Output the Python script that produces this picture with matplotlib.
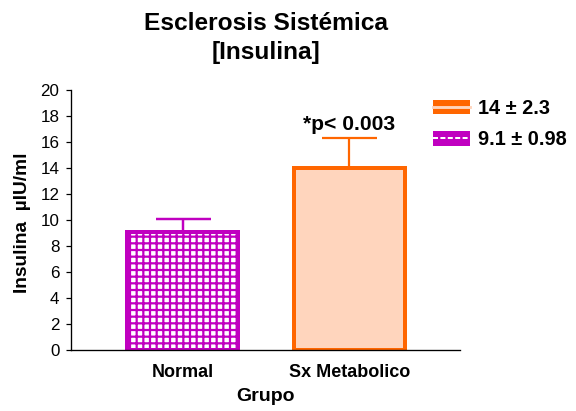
import matplotlib
matplotlib.use('Agg')
import matplotlib.pyplot as plt
from matplotlib.patches import Patch
from matplotlib.lines import Line2D

groups = ['Normal', 'Sx Metabolico']
means = [9.1, 14]
sems = [0.98, 2.3]
legend_labels = ['14 \u00b1 2.3', '9.1 \u00b1 0.98']
p_text = '*p< 0.003'

purple = '#C000C0'
orange = '#FF6600'
peach = '#FFD5BD'

plt.rcParams['font.family'] = ['Liberation Sans', 'DejaVu Sans']
plt.rcParams['hatch.linewidth'] = 2.0

fig = plt.figure(figsize=(7.2, 5.1375), dpi=80)
ax = fig.add_axes([0.1233, 0.1484, 0.6753, 0.6326])

x = list(range(len(groups)))

# error bars sit behind the bars so only the upper half shows
ax.errorbar(x[0], means[0], yerr=[[0], [sems[0]]], fmt='none', ecolor=purple,
            elinewidth=2.2, capsize=24.75, capthick=2.2, zorder=1)
ax.errorbar(x[1], means[1], yerr=[[0], [sems[1]]], fmt='none', ecolor=orange,
            elinewidth=2.0, capsize=24.75, capthick=2.0, zorder=1)

ax.bar(x[0], means[0], width=0.67, facecolor='white', edgecolor=purple,
       hatch='++', linewidth=3.6, zorder=2)
ax.bar(x[1], means[1], width=0.67, facecolor=peach, edgecolor=orange,
       linewidth=3.6, zorder=2)

ax.text(x[1], means[1] + sems[1] + 0.6, p_text, ha='center', va='baseline',
        fontsize=19, fontweight='bold')

ax.set_xlim(-0.668, 1.662)
ax.set_ylim(0, 20)
ax.set_yticks(range(0, 21, 2))
ax.set_xticks(x)
ax.set_xticklabels(groups, fontsize=16.2, fontweight='bold')
ax.tick_params(axis='x', length=0, pad=13)
ax.tick_params(axis='y', length=4.5, width=1.1, pad=6, labelsize=15.3)

for side in ['top', 'right']:
    ax.spines[side].set_visible(False)
for side in ['left', 'bottom']:
    ax.spines[side].set_linewidth(1.2)

ax.set_ylabel('Insulina  \u00b5IU/ml', fontsize=17.2, fontweight='bold')
ax.yaxis.set_label_coords(-0.103, 0.49)
ax.set_xlabel('Grupo', fontsize=17.5, fontweight='bold')
ax.xaxis.set_label_coords(0.5, -0.145)

ax.set_title('Esclerosis Sist\u00e9mica\n[Insulina]', fontsize=22,
             fontweight='bold', pad=28, linespacing=1.33)

h1 = (Patch(facecolor=orange, edgecolor='none'),
      Line2D([], [], color=peach, linewidth=2.6))
h2 = (Patch(facecolor=purple, edgecolor='none'),
      Line2D([], [], color='white', linewidth=1.8, linestyle=(0, (2.5, 1.2))))
fig.legend([h1, h2], legend_labels, loc='upper left',
           bbox_to_anchor=(433 / 576, 1 - 99 / 411), frameon=False,
           prop={'size': 18, 'weight': 'bold'}, borderpad=0,
           borderaxespad=0, handlelength=1.85, handleheight=0.75,
           handletextpad=0.42, labelspacing=0.62)

fig.savefig('out.png', dpi=80)
